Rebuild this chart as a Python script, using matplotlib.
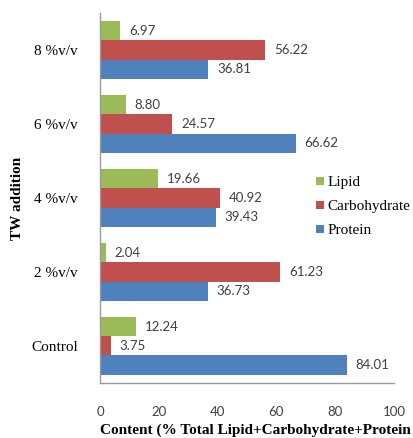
import matplotlib
matplotlib.use("Agg")
import matplotlib.pyplot as plt
import numpy as np

groups = ["Control", "2 %v/v", "4 %v/v", "6 %v/v", "8 %v/v"]
protein = [84.01, 36.73, 39.43, 66.62, 36.81]
carbohydrate = [3.75, 61.23, 40.92, 24.57, 56.22]
lipid = [12.24, 2.04, 19.66, 8.80, 6.97]

xticks = [0, 20, 40, 60, 80, 100]

fig = plt.figure(figsize=(4.13, 4.38), dpi=100)
ax = fig.add_axes([0.242, 0.126, 0.712, 0.844])

y = np.arange(len(groups))
h = 0.26
series = [("Lipid", lipid, "#9BBB59", h),
          ("Carbohydrate", carbohydrate, "#C0504D", 0),
          ("Protein", protein, "#4F81BD", -h)]

for name, vals, col, off in series:
    bars = ax.barh(y + off, vals, height=h, color=col, label=name)
    for b, v in zip(bars, vals):
        ax.text(v + 3, b.get_y() + h / 2, "%.2f" % v, va="center", ha="left",
                fontsize=9.5, color="#404040", family="Lato")

ax.set_xlim(0, 100)
ax.set_ylim(-0.5, 4.5)
ax.set_xticks(xticks)
ax.set_xticklabels([str(t) for t in xticks], fontsize=9.5, color="#404040", family="Lato")
ax.set_yticks(y)
ax.set_yticklabels(groups, fontsize=11, family="Liberation Serif")
ax.tick_params(axis="both", length=0)
ax.tick_params(axis="x", pad=17)
ax.tick_params(axis="y", pad=16)

for s in ["top", "right"]:
    ax.spines[s].set_visible(False)
for s in ["left", "bottom"]:
    ax.spines[s].set_color("#9a9a9a")
    ax.spines[s].set_linewidth(1)

ax.set_xlabel("Content (% Total Lipid+Carbohydrate+Protein", fontsize=11,
              fontweight="bold", family="Liberation Serif", labelpad=4, loc="left")
ax.set_ylabel("TW addition", fontsize=11, fontweight="bold",
              family="Liberation Serif", labelpad=5)

ax.legend(loc="upper left", bbox_to_anchor=(0.714, 0.575), frameon=False,
          prop={"family": "Liberation Serif", "size": 11},
          handlelength=0.5, handleheight=0.5, handletextpad=0.25,
          labelspacing=0.72, borderaxespad=0)

fig.savefig("out.png", dpi=100)
